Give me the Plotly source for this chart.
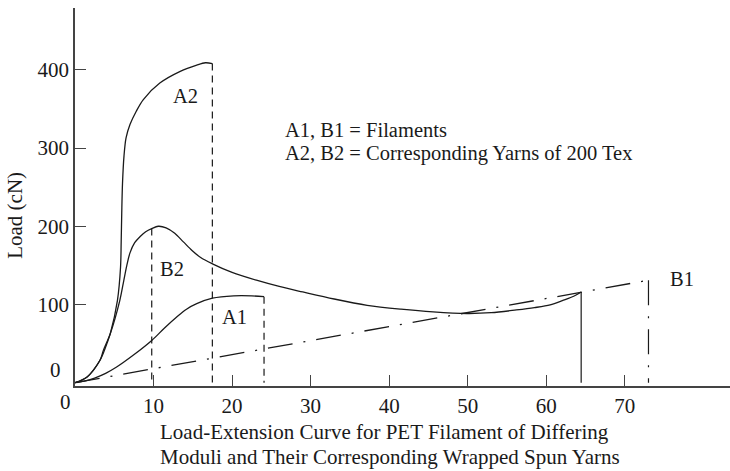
import plotly.graph_objects as go

# Load-extension curves (extension %, load cN)
a2_ext = [0, 1.5, 3.2, 4.2, 4.5, 5.4, 5.8, 5.88, 5.95, 6.05, 6.24, 6.5, 7.0, 7.8, 8.7, 10.8, 13.4, 15.5, 16.6, 17.49]
a2_load = [0, 7, 29, 54, 63, 105, 148, 180, 216, 255, 290, 313, 330, 347, 362, 383, 398, 406, 409, 408]

b2_ext = [0, 1.5, 3.2, 3.6, 4.5, 5.7, 6.2, 6.6, 7.0, 7.6, 8.3, 9.0, 9.77, 10.6, 11.6, 12.7, 13.8, 14.9,
          16.0, 17.5, 20.0, 23.1, 26.0, 29.0, 33.0, 37.2, 41.5, 45.6, 49.9, 53.0, 56.2, 58.5, 60.5, 62.2, 63.5, 64.45]
b2_load = [0, 7, 29, 41, 63, 105, 130, 150, 166, 179, 187, 193, 197, 200, 198, 191, 180, 169,
           160, 152, 141, 131, 123, 116, 107, 99, 94, 90.5, 88.5, 89.5, 93, 96, 99.5, 105.5, 110.5, 116]

a1_ext = [0, 1.2, 2.5, 3.9, 5.3, 7.4, 9.77, 11.4, 12.95, 14.2, 15.5, 17.5, 20.2, 22.5, 24.07]
a1_load = [0, 2, 6, 12, 20, 35, 54, 70, 84, 94, 101, 108, 111, 111, 110]

b1_ext = [0, 73.02]
b1_load = [0, 131]

# break points (vertical drops to the axis)
drop_ext = [9.77, 17.49, 24.07, 64.45, 73.02]
drop_load = [197, 408, 110, 116, 131]
drop_dash = ["7px,5px", "7px,5px", "7px,5px", "solid", "25px,11px,2px,11px"]

x_ticks = [10, 20, 30, 40, 50, 60, 70]
y_ticks = [100, 200, 300, 400]

curve_labels = ["A2", "B2", "A1", "B1"]
curve_label_x = [14.1, 12.3, 20.3, 77.3]
curve_label_y = [367, 146, 84, 133]

note_lines = ["A1, B1 = Filaments", "A2, B2 = Corresponding Yarns of 200 Tex"]
x_title_lines = ["Load-Extension Curve for PET Filament of Differing",
                 "Moduli and Their Corresponding Wrapped Spun Yarns"]
y_title = "Load (cN)"

FONT = "Liberation Serif, Times New Roman, serif"
INK = "#1a1a1a"

fig = go.Figure()
smooth = dict(color=INK, width=1.3, shape="spline", smoothing=0.9)
fig.add_trace(go.Scatter(x=a2_ext, y=a2_load, mode="lines", line=smooth))
fig.add_trace(go.Scatter(x=b2_ext, y=b2_load, mode="lines", line=smooth))
fig.add_trace(go.Scatter(x=a1_ext, y=a1_load, mode="lines", line=smooth))
fig.add_trace(go.Scatter(x=b1_ext, y=b1_load, mode="lines",
                         line=dict(color=INK, width=1.3, dash="25px,11px,2px,11px")))
for xe, yl, d in zip(drop_ext, drop_load, drop_dash):
    fig.add_trace(go.Scatter(x=[xe, xe], y=[yl, 0], mode="lines",
                             line=dict(color=INK, width=1.2, dash=d)))

ann = []
for t, x, y in zip(curve_labels, curve_label_x, curve_label_y):
    ann.append(dict(text=t, x=x, y=y, xref="x", yref="y", showarrow=False,
                    xanchor="center", yanchor="middle", font=dict(size=20.5)))
for t, y in zip(note_lines, [323, 293]):
    ann.append(dict(text=t, x=26.46, y=y, xref="x", yref="y", showarrow=False,
                    xanchor="left", yanchor="middle", font=dict(size=20.5)))
for t, y in zip(x_title_lines, [-0.121, -0.187]):
    ann.append(dict(text=t, x=0.1272, y=y, xref="paper", yref="paper", showarrow=False,
                    xanchor="left", yanchor="middle", font=dict(size=21)))
ann.append(dict(text=y_title, x=-0.0908, y=214, xref="paper", yref="y", showarrow=False,
                textangle=-90, xanchor="center", yanchor="middle", font=dict(size=21)))
# the two "0" labels sit off the origin
ann.append(dict(text="0", x=0, y=0, xref="x", yref="y", showarrow=False,
                xanchor="right", yanchor="middle", xshift=-12, yshift=13, font=dict(size=21)))
ann.append(dict(text="0", x=0, y=0, xref="x", yref="y", showarrow=False,
                xanchor="center", yanchor="middle", xshift=-10, yshift=-19, font=dict(size=21)))

axis = dict(showgrid=False, zeroline=False, showline=True, linecolor="#444", linewidth=1.5,
            ticks="inside", ticklen=11, tickcolor="#444", tickwidth=1.3,
            tickfont=dict(family=FONT, size=21, color=INK))
fig.update_layout(
    width=730, height=471,
    margin=dict(l=75, r=0, t=8, b=85),
    plot_bgcolor="white", paper_bgcolor="white",
    showlegend=False,
    font=dict(family=FONT, size=20, color=INK),
    xaxis=dict(axis, range=[0, 83.4], tickvals=x_ticks),
    yaxis=dict(axis, range=[-4.2, 479], tickvals=y_ticks),
    annotations=ann,
)
# drop the page's default body margin so the figure sits at the window's corner
fig.write_html("out.html", config={"displayModeBar": False},
               post_script="document.body.style.margin='0';")
